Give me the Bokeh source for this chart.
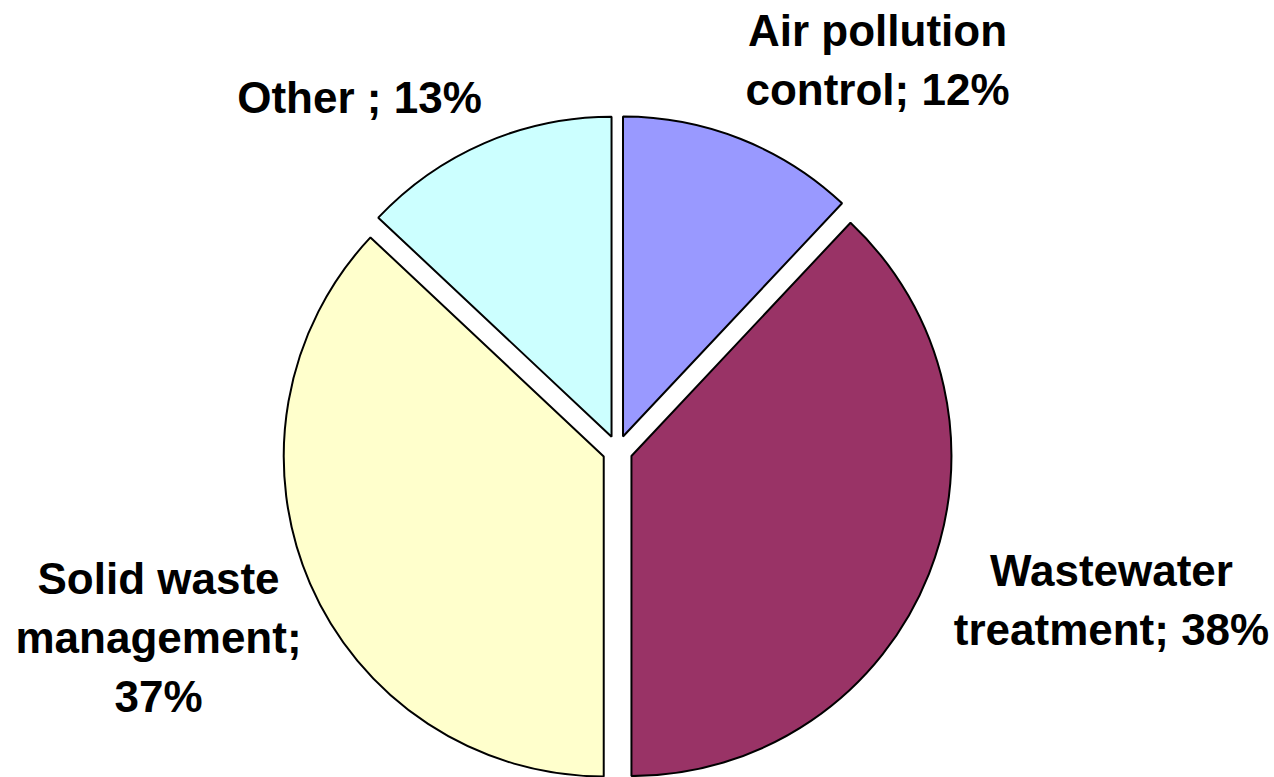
import math
from bokeh.plotting import figure
from bokeh.models import Range1d, ColumnDataSource
from bokeh.core.properties import value
from bokeh.embed import file_html
from bokeh.resources import INLINE

# ---- data ----
categories = ["Air pollution control", "Wastewater treatment", "Solid waste management", "Other"]
shares = [12, 38, 37, 13]
labels = ["Air pollution\ncontrol; 12%", "Wastewater\ntreatment; 38%", "Solid waste\nmanagement;\n37%", "Other ; 13%"]
colors = ["#9999FF", "#993366", "#FFFFCC", "#CCFFFF"]

# ---- layout (screen pixels) ----
W, H = 1274, 777
CX, CY = 617, 450          # pie centre (screen)
R = 320                     # radius
EXPLODE = 15                # offset of each slice along its bisector
label_anchor = [(877, 30), (1111, 570), (158, 578), (359, 97)]  # centre of first line (screen)
LINE_STEP = 59
FONT = "Liberation Sans"
FSIZE = "44px"

p = figure(width=W, height=H, output_backend="svg", toolbar_location=None,
           x_range=Range1d(0, W), y_range=Range1d(0, H), min_border=0)
p.axis.visible = False
p.grid.visible = False
p.outline_line_color = None
p.background_fill_color = "white"
p.border_fill_color = "white"

total = float(sum(shares))
xs, ys, sa, ea = [], [], [], []
cum = 0.0
for s in shares:
    f0 = cum / total
    f1 = (cum + s) / total
    cum += s
    mid = math.pi / 2 - 2 * math.pi * (f0 + f1) / 2
    xs.append(CX + EXPLODE * math.cos(mid))
    ys.append((H - CY) + EXPLODE * math.sin(mid))
    sa.append(math.pi / 2 - 2 * math.pi * f1)
    ea.append(math.pi / 2 - 2 * math.pi * f0)

src = ColumnDataSource(dict(x=xs, y=ys, start=sa, end=ea, color=colors, cat=categories))
p.wedge(x="x", y="y", radius=R, radius_units="data", start_angle="start", end_angle="end",
        direction="anticlock", fill_color="color", line_color="black", line_width=2, source=src)

tx, ty, tt = [], [], []
for lab, (ax, ay) in zip(labels, label_anchor):
    for i, line in enumerate(lab.split("\n")):
        tx.append(ax)
        ty.append(H - (ay + i * LINE_STEP))
        tt.append(line)

p.text(x=tx, y=ty, text=tt, text_align="center", text_baseline="middle",
       text_font=value(FONT), text_font_style="bold", text_font_size=FSIZE, text_color="black")

open("out.html", "w").write(file_html(p, INLINE))
